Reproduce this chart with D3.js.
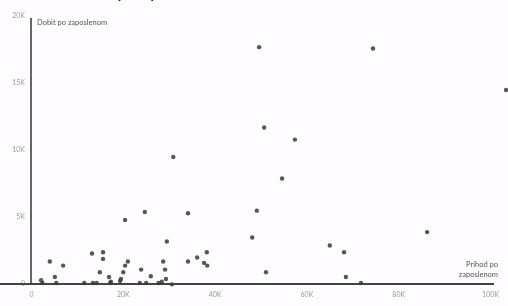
<!DOCTYPE html>
<html>
<head>
<meta charset="utf-8">
<script src="https://cdn.jsdelivr.net/npm/d3@7"></script>
<style>
  html, body { margin: 0; padding: 0; background: #fefcfe; }
  svg { display: block; filter: blur(0.35px); }
</style>
</head>
<body>
<svg id="chart" width="508" height="306"></svg>
<script>
const titleText = "Prihod i dobit po zaposlenom";
const yAxisLabel = "Dobit po zaposlenom";
const xAxisLabelLines = ["Prihod po", "zaposlenom"];
const xTicks = [0, 20000, 40000, 60000, 80000, 100000];
const yTicks = [0, 5000, 10000, 15000, 20000];
const tickLabel = v => v === 0 ? "0" : (v / 1000) + "K";

// Revenue per employee (x) and profit per employee (y)
const revenue = [
  49700, 74500, 103500, 31000, 50800, 57500, 54700, 49200, 48200, 86300,
  65100, 68200, 51200, 68600, 71900,
  24800, 34200, 20500, 29600, 13300, 15700, 15700, 4100, 7000, 15000,
  17000, 17400, 21100, 20500, 20100, 19600, 24000, 26100, 28800, 29200,
  29400, 28500, 34200, 36200, 38300, 37700, 38400, 5200, 5500, 2200,
  2500, 11600, 13500, 17300, 23700, 25100, 30700, 27800, 14300, 19400
];
const profit = [
  17600, 17500, 14400, 9400, 11600, 10700, 7800, 5400, 3400, 3800,
  2800, 2300, 800, 450, 0,
  5300, 5200, 4700, 3100, 2200, 2300, 1800, 1600, 1300, 800,
  450, 100, 1600, 1300, 800, 300, 1000, 500, 1600, 1000,
  300, 100, 1600, 1900, 2300, 1500, 1300, 450, 0, 200,
  0, 0, 0, 0, 0, 0, -100, 0, 0, 150
];

const svg = d3.select("#chart");
const x = d3.scaleLinear().domain([0, 100000]).range([31, 490]);
const y = d3.scaleLinear().domain([0, 20000]).range([283, 15]);

// Title (mostly cut off at the top edge)
svg.append("text")
  .attr("x", 30).attr("y", -1)
  .attr("font-family", "Lato, sans-serif")
  .attr("font-size", 14).attr("font-weight", "bold")
  .attr("fill", "#222")
  .text(titleText);

// y axis
const yAxis = d3.axisLeft(y).tickValues(yTicks).tickFormat(tickLabel).tickSize(0).tickPadding(6);
const gy = svg.append("g").attr("transform", `translate(${x(0)},0)`).call(yAxis);
gy.select(".domain").attr("stroke", "#555").attr("stroke-width", 1.8)
  .attr("d", `M0,${y(20000) + 3}V${y(0) + 2}`);
gy.selectAll("text").attr("font-family", "Lato, sans-serif").attr("font-size", 7).attr("fill", "#9a9a9a");

// x axis
const xAxis = d3.axisBottom(x).tickValues(xTicks).tickFormat(tickLabel).tickSize(0).tickPadding(9);
const gx = svg.append("g").attr("transform", `translate(0,${y(0)})`).call(xAxis);
gx.select(".domain").attr("stroke", "#444").attr("stroke-width", 1.8)
  .attr("d", `M0,1H${x(100000) + 4}`);
gx.selectAll("text").attr("font-family", "Lato, sans-serif").attr("font-size", 7).attr("fill", "#9a9a9a");

// axis labels
svg.append("text")
  .attr("x", x(0) + 6).attr("y", y(20000) + 10)
  .attr("font-family", "Lato, sans-serif").attr("font-size", 7.5).attr("fill", "#555")
  .text(yAxisLabel);

const xl = svg.append("text")
  .attr("text-anchor", "end")
  .attr("font-family", "Lato, sans-serif").attr("font-size", 7.5).attr("fill", "#555");
xAxisLabelLines.forEach((t, i) => {
  xl.append("tspan").attr("x", 498).attr("y", y(0) - 16 + i * 10).text(t);
});

// points
svg.append("g").selectAll("circle")
  .data(revenue.map((r, i) => [r, profit[i]]))
  .join("circle")
  .attr("cx", d => x(d[0]))
  .attr("cy", d => y(d[1]))
  .attr("r", 2.2)
  .attr("fill", "#3a3a3a")
  .attr("fill-opacity", 0.85);
</script>
</body>
</html>
